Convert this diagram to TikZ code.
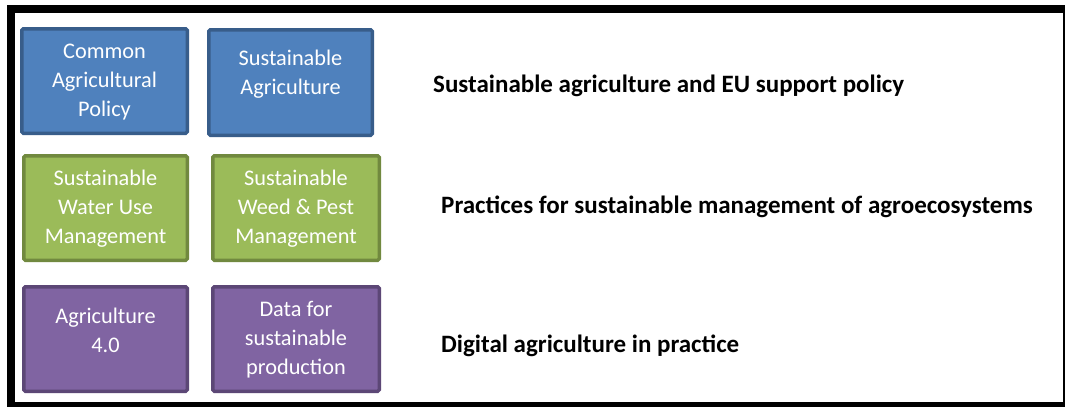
\documentclass[tikz,border=0pt]{standalone}
\usepackage{fontspec}
\setmainfont{Carlito}
\definecolor{bluefill}{HTML}{4F81BD}
\definecolor{blueline}{HTML}{385D8A}
\definecolor{greenfill}{HTML}{9BBB59}
\definecolor{greenline}{HTML}{71893F}
\definecolor{purplefill}{HTML}{8064A2}
\definecolor{purpleline}{HTML}{5C4776}
\begin{document}
\begin{tikzpicture}[x=1pt,y=-1pt,
  box/.style={draw, line width=3.5pt, rounded corners=1.5pt, inner sep=0pt},
  bluebox/.style={box, fill=bluefill, draw=blueline},
  greenbox/.style={box, fill=greenfill, draw=greenline},
  purplebox/.style={box, fill=purplefill, draw=purpleline},
  boxtext/.style={text=white, align=center, font=\fontsize{22.3}{29}\selectfont, inner sep=0pt},
  rowlabel/.style={anchor=base west, inner sep=0pt, font=\fontsize{25}{29}\selectfont\bfseries}
]
\useasboundingbox (0,0) rectangle (1065,407);
\fill[white] (0,0) rectangle (1065,407);
% frame
\fill[black] (7,5) rectangle (1065,13);
\fill[black] (7,5) rectangle (15,407);
\fill[black] (7,402) rectangle (1065,407);
\fill[black] (1063,5) rectangle (1065,407);
% boxes
\node[bluebox, minimum width=165.5pt, minimum height=104.5pt] (b1) at (104.5,81) {};
\node[bluebox, minimum width=163.5pt, minimum height=105.5pt] (b2) at (290.5,82.5) {};
\node[greenbox, minimum width=163.5pt, minimum height=104.5pt] (b3) at (105.5,208) {};
\node[greenbox, minimum width=166.5pt, minimum height=104.5pt] (b4) at (296,208) {};
\node[purplebox, minimum width=163.5pt, minimum height=104.5pt] (b5) at (105.5,339) {};
\node[purplebox, minimum width=166.5pt, minimum height=104.5pt] (b6) at (296,339) {};
% box texts
\node[boxtext] (t1) at (104.5,82) {Common\\Agricultural\\Policy};
\node[boxtext] (t2) at (290.5,74.5) {Sustainable\\Agriculture};
\node[boxtext] (t3) at (105.5,209) {Sustainable\\Water Use\\Management};
\node[boxtext] (t4) at (296,209) {Sustainable\\Weed \& Pest\\Management};
\node[boxtext] (t5) at (105.5,330.5) {Agriculture\\4.0};
\node[boxtext] (t6) at (296,340) {Data for\\sustainable\\production};
% row labels
\node[rowlabel] (l1) at (433,92) {Sustainable agriculture and EU support policy};
\node[rowlabel] (l2) at (441,213) {Practices for sustainable management of agroecosystems};
\node[rowlabel] (l3) at (441,352) {Digital agriculture in practice};
\end{tikzpicture}
\end{document}
